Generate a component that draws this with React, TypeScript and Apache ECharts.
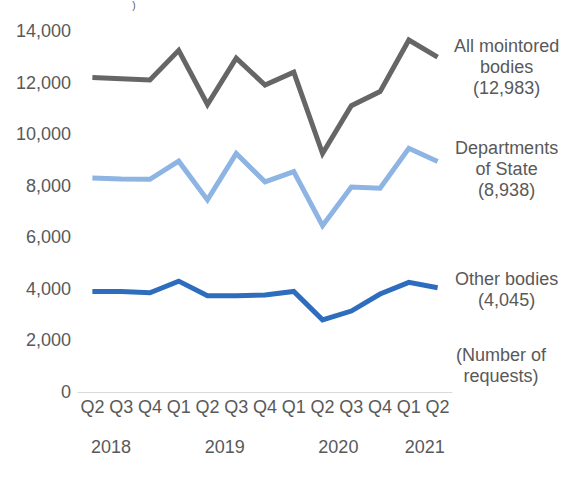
import React, { useEffect, useRef } from "react";
import * as echarts from "echarts";

const quarters = ["Q2", "Q3", "Q4", "Q1", "Q2", "Q3", "Q4", "Q1", "Q2", "Q3", "Q4", "Q1", "Q2"];
const allMonitored = [12200, 12150, 12100, 13250, 11150, 12950, 11900, 12400, 9250, 11100, 11650, 13650, 12983];
const departments = [8300, 8260, 8250, 8950, 7450, 9250, 8150, 8550, 6450, 7950, 7900, 9450, 8938];
const otherBodies = [3900, 3900, 3850, 4300, 3730, 3730, 3760, 3900, 2800, 3140, 3800, 4250, 4045];
const years = ["2018", "2019", "2020", "2021"];
const seriesNames = ["All mointored bodies", "Departments of State", "Other bodies"];
const endValueLabels = ["(12,983)", "(8,938)", "(4,045)"];
const unitsLabel = "(Number of\nrequests)";

const FONT = "'Liberation Sans', Arial, sans-serif";
const TEXT = "#595959";

export default function App() {
  const ref = useRef<HTMLDivElement>(null);
  useEffect(() => {
    if (!ref.current) return;
    const chart = echarts.init(ref.current, null, { renderer: "svg" });
    const colors = ["#666666", "#8db4e2", "#2e6dbd"];
    const data = [allMonitored, departments, otherBodies];
    chart.setOption({
      animation: false,
      grid: { left: 78, right: 113, top: 31, bottom: 91 },
      xAxis: {
        type: "category",
        data: quarters,
        boundaryGap: true,
        axisLine: { lineStyle: { color: "#d9d9d9", width: 1 } },
        axisTick: { show: false },
        axisLabel: { color: TEXT, fontSize: 18, fontFamily: FONT, margin: 6, interval: 0 },
      },
      yAxis: {
        type: "value",
        min: 0,
        max: 14000,
        interval: 2000,
        splitLine: { show: false },
        axisLine: { show: false },
        axisTick: { show: false },
        axisLabel: {
          color: TEXT,
          fontSize: 18,
          fontFamily: FONT,
          margin: 7,
          formatter: (v: number) => v.toLocaleString("en-US"),
        },
      },
      series: data.map((d, i) => ({
        name: seriesNames[i],
        type: "line",
        data: d,
        symbol: "none",
        lineStyle: { color: colors[i], width: 5, join: "miter" },
        z: 3 - i,
      })),
    });

    const p0 = chart.convertToPixel({ xAxisIndex: 0 }, 0) as number;
    const p1 = chart.convertToPixel({ xAxisIndex: 0 }, 1) as number;
    const step = p1 - p0;
    const yearAt = [0.65, 4.6, 8.55, 11.55];
    const y0 = chart.convertToPixel({ yAxisIndex: 0 }, 0) as number;

    const graphics: any[] = years.map((yr, i) => ({
      type: "text",
      x: p0 + yearAt[i] * step,
      y: y0 + 55,
      style: {
        text: yr,
        fill: TEXT,
        font: `18px ${FONT}`,
        textAlign: "center",
        textVerticalAlign: "middle",
      },
    }));

    const labelTexts = [
      "All mointored\nbodies\n" + endValueLabels[0],
      "Departments\nof State\n" + endValueLabels[1],
      "Other bodies\n" + endValueLabels[2],
    ];
    const dy = [10, 7, 2];
    data.forEach((d, i) => {
      const last = d.length - 1;
      const pt = chart.convertToPixel({ seriesIndex: i }, [last, d[last]]) as number[];
      graphics.push({
        type: "text",
        x: pt[0] + 69,
        y: pt[1] + dy[i],
        style: {
          text: labelTexts[i],
          fill: TEXT,
          font: `18px ${FONT}`,
          lineHeight: 21,
          textAlign: "center",
          textVerticalAlign: "middle",
        },
      });
    });
    graphics.push({
      type: "text",
      x: 501,
      y: 365,
      style: {
        text: unitsLabel,
        fill: TEXT,
        font: `18px ${FONT}`,
        lineHeight: 21,
        textAlign: "center",
        textVerticalAlign: "middle",
      },
    });
    graphics.push({
      type: "text",
      x: 134,
      y: 0,
      style: {
        text: ")",
        fill: TEXT,
        font: `10px ${FONT}`,
        textAlign: "center",
        textVerticalAlign: "top",
      },
    });
    chart.setOption({ graphic: graphics });
    return () => chart.dispose();
  }, []);
  return (
    <div
      ref={ref}
      style={{ position: "fixed", left: 0, top: 0, width: 565, height: 483, background: "#fff" }}
    />
  );
}
